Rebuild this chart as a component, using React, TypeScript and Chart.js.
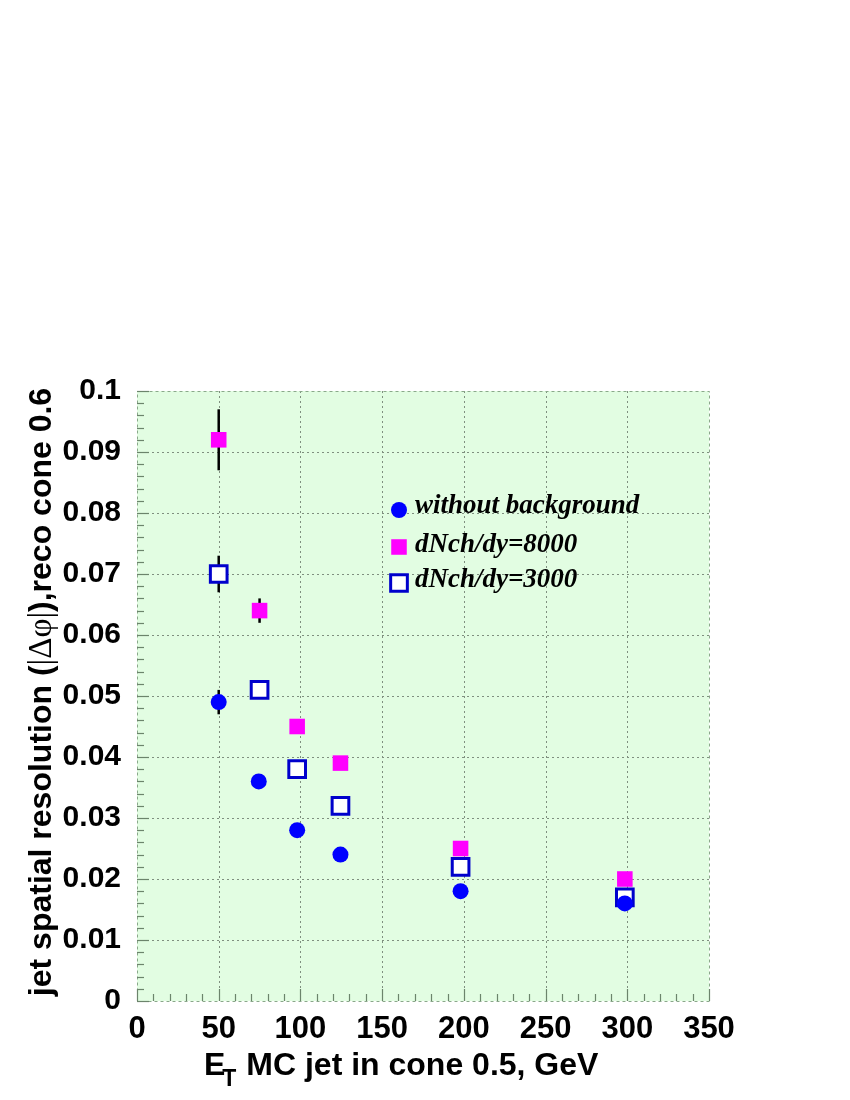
import React, { useEffect, useRef } from 'react';
import { Chart, registerables } from 'chart.js';

Chart.register(...registerables);

// ---- data ----
const xNoBg = [50, 74.5, 98, 124.5, 198, 298.5];
const yNoBg = [0.049, 0.036, 0.028, 0.024, 0.018, 0.016];
const eNoBg = [0.002, 0.0006, 0.0005, 0.0005, 0.0005, 0.0005];

const x8000 = [50, 75, 98, 124.5, 198, 298.5];
const y8000 = [0.092, 0.064, 0.045, 0.039, 0.025, 0.020];
const e8000 = [0.005, 0.002, 0.001, 0.001, 0.0008, 0.0008];

const x3000 = [50, 75, 98, 124.5, 198, 298.5];
const y3000 = [0.070, 0.051, 0.038, 0.032, 0.022, 0.017];
const e3000 = [0.003, 0.001, 0.001, 0.0008, 0.0006, 0.0006];

const seriesLabels = ['without background', 'dNch/dy=8000', 'dNch/dy=3000'];

const xTickValues = [0, 50, 100, 150, 200, 250, 300, 350];
const yTickValues = [0, 0.01, 0.02, 0.03, 0.04, 0.05, 0.06, 0.07, 0.08, 0.09, 0.1];
const xMinorStep = 10;
const yMinorStep = 0.002;

const xTitleMain = 'E';
const xTitleSub = 'T';
const xTitleRest = ' MC jet in cone 0.5, GeV';
const yTitleParts = ['jet spatial resolution (', '|\u0394\u03c6|', '),reco cone 0.6'];

const SANS = "'Liberation Sans', Arial, Helvetica, sans-serif";
const SERIF = "'Liberation Serif', 'Times New Roman', serif";
const PLOT_BG = '#e2fde2';
const GRID_COLOR = '#7f8f7f';
const FRAME_COLOR = '#8aa88a';
const TICK_COLOR = '#6c846c';

const errorsByDataset = [eNoBg, e8000, e3000];

const decorPlugin = {
  id: 'rootDecor',
  beforeDraw(chart: any) {
    const { ctx, chartArea: a } = chart;
    ctx.save();
    ctx.fillStyle = PLOT_BG;
    ctx.fillRect(a.left, a.top, a.right - a.left, a.bottom - a.top);
    ctx.restore();
  },
  beforeDatasetsDraw(chart: any) {
    const { ctx, chartArea: a, scales } = chart;
    const xs = scales.x;
    const ys = scales.y;
    ctx.save();
    // dotted grid lines
    ctx.strokeStyle = GRID_COLOR;
    ctx.lineWidth = 1;
    ctx.setLineDash([2, 3]);
    xTickValues.forEach((v) => {
      const px = Math.round(xs.getPixelForValue(v)) + 0.5;
      if (v <= xs.min || v >= xs.max) return;
      ctx.beginPath();
      ctx.moveTo(px, a.top);
      ctx.lineTo(px, a.bottom);
      ctx.stroke();
    });
    yTickValues.forEach((v) => {
      const py = Math.round(ys.getPixelForValue(v)) + 0.5;
      if (v <= ys.min || v >= ys.max) return;
      ctx.beginPath();
      ctx.moveTo(a.left, py);
      ctx.lineTo(a.right, py);
      ctx.stroke();
    });
    // dotted frame
    ctx.strokeStyle = FRAME_COLOR;
    ctx.setLineDash([3, 3]);
    ctx.strokeRect(Math.round(a.left) + 0.5, Math.round(a.top) + 0.5, Math.round(a.right - a.left), Math.round(a.bottom - a.top));
    ctx.setLineDash([]);
    // tick marks
    ctx.strokeStyle = TICK_COLOR;
    ctx.lineWidth = 1.2;
    for (let v = xs.min; v <= xs.max + 1e-9; v += xMinorStep) {
      const major = Math.abs(v / 50 - Math.round(v / 50)) < 1e-6;
      const px = Math.round(xs.getPixelForValue(v)) + 0.5;
      const len = major ? 12 : 7;
      ctx.beginPath();
      ctx.moveTo(px, a.bottom);
      ctx.lineTo(px, a.bottom - len);
      ctx.stroke();
    }
    for (let i = 0; i * yMinorStep <= ys.max + 1e-9; i++) {
      const v = i * yMinorStep;
      const major = i % 5 === 0;
      const py = Math.round(ys.getPixelForValue(v)) + 0.5;
      const len = major ? 12 : 7;
      ctx.beginPath();
      ctx.moveTo(a.left, py);
      ctx.lineTo(a.left + len, py);
      ctx.stroke();
    }
    // error bars
    ctx.strokeStyle = '#000000';
    ctx.lineWidth = 2.5;
    chart.data.datasets.forEach((ds: any, di: number) => {
      const errs = errorsByDataset[di];
      ds.data.forEach((pt: any, i: number) => {
        const px = xs.getPixelForValue(pt.x);
        const y1 = ys.getPixelForValue(pt.y - errs[i]);
        const y2 = ys.getPixelForValue(pt.y + errs[i]);
        ctx.beginPath();
        ctx.moveTo(px, y1);
        ctx.lineTo(px, y2);
        ctx.stroke();
      });
    });
    ctx.restore();
  },
  afterDraw(chart: any) {
    const { ctx, chartArea: a } = chart;
    ctx.save();
    // legend
    const legendX = 399;
    const legendY = [510, 547, 583];
    const baseY = [513, 552, 587];
    chart.data.datasets.forEach((ds: any, i: number) => {
      ctx.save();
      ctx.beginPath();
      if (ds.pointStyle === 'circle') {
        ctx.fillStyle = ds.backgroundColor;
        ctx.arc(legendX, legendY[i], ds.pointRadius, 0, Math.PI * 2);
        ctx.fill();
      } else {
        const h = ds.pointRadius * Math.SQRT1_2;
        ctx.rect(legendX - h, legendY[i] - h, 2 * h, 2 * h);
        ctx.fillStyle = ds.backgroundColor;
        ctx.fill();
        if (ds.borderWidth > 0) {
          ctx.lineWidth = ds.borderWidth;
          ctx.strokeStyle = ds.borderColor;
          ctx.stroke();
        }
      }
      ctx.restore();
      ctx.fillStyle = '#000';
      ctx.font = `italic bold 27px ${SERIF}`;
      ctx.textAlign = 'left';
      ctx.textBaseline = 'alphabetic';
      ctx.fillText(ds.label, 415, baseY[i]);
    });

    // x title
    ctx.fillStyle = '#000';
    ctx.textAlign = 'left';
    ctx.textBaseline = 'alphabetic';
    ctx.font = `bold 32px ${SANS}`;
    const ex = 204;
    ctx.fillText(xTitleMain, ex, 1075);
    const wE = ctx.measureText(xTitleMain).width;
    ctx.font = `bold 23px ${SANS}`;
    const tx = ex + wE - 3;
    ctx.fillText(xTitleSub, tx, 1086);
    const wT = ctx.measureText(xTitleSub).width;
    ctx.font = `bold 32px ${SANS}`;
    ctx.fillText(xTitleRest, tx + wT + 1, 1075);

    // y title (rotated)
    const fonts = [`bold 32px ${SANS}`, `33px ${SERIF}`, `bold 32px ${SANS}`];
    let total = 0;
    const widths = yTitleParts.map((p, i) => {
      ctx.font = fonts[i];
      const w = ctx.measureText(p).width;
      total += w;
      return w;
    });
    ctx.translate(51, (a.top + a.bottom) / 2 - 4);
    ctx.rotate(-Math.PI / 2);
    let cx = -total / 2;
    yTitleParts.forEach((p, i) => {
      ctx.font = fonts[i];
      ctx.fillText(p, cx, 0);
      cx += widths[i];
    });
    ctx.restore();
  },
};

export default function App() {
  const canvasRef = useRef<HTMLCanvasElement | null>(null);

  useEffect(() => {
    if (!canvasRef.current) return;
    const toPts = (xs: number[], ys: number[]) => xs.map((x, i) => ({ x, y: ys[i] }));
    const chart = new Chart(canvasRef.current, {
      type: 'scatter',
      data: {
        datasets: [
          {
            label: seriesLabels[0],
            data: toPts(xNoBg, yNoBg),
            pointStyle: 'circle',
            pointRadius: 8,
            pointHoverRadius: 8,
            backgroundColor: '#0000ff',
            borderColor: '#0000ff',
            borderWidth: 0,
            order: 0,
          } as any,
          {
            label: seriesLabels[1],
            data: toPts(x8000, y8000),
            pointStyle: 'rect',
            pointRadius: 11,
            pointHoverRadius: 11,
            backgroundColor: '#ff00ff',
            borderColor: '#ff00ff',
            borderWidth: 0,
            order: 2,
          } as any,
          {
            label: seriesLabels[2],
            data: toPts(x3000, y3000),
            pointStyle: 'rect',
            pointRadius: 11.8,
            pointHoverRadius: 11.8,
            backgroundColor: '#ffffff',
            borderColor: '#0000cc',
            borderWidth: 3,
            order: 1,
          } as any,
        ],
      },
      options: {
        animation: false,
        responsive: false,
        maintainAspectRatio: false,
        layout: { padding: { top: 391, right: 141, bottom: 0, left: 0 } },
        plugins: {
          legend: { display: false },
          tooltip: { enabled: false },
          title: { display: false },
        },
        scales: {
          x: {
            type: 'linear',
            min: 0,
            max: 350,
            grid: { display: false, drawTicks: false },
            border: { display: false },
            afterFit: (s: any) => { s.height = 99; },
            afterBuildTicks: (s: any) => { s.ticks = xTickValues.map((v) => ({ value: v })); },
            ticks: {
              padding: 10,
              color: '#000',
              font: { family: SANS, size: 31, weight: 'bold' },
              callback: (v: any) => String(v),
              maxRotation: 0,
              autoSkip: false,
            },
          },
          y: {
            type: 'linear',
            min: 0,
            max: 0.1,
            grid: { display: false, drawTicks: false },
            border: { display: false },
            afterFit: (s: any) => { s.width = 137; },
            afterBuildTicks: (s: any) => { s.ticks = yTickValues.map((v) => ({ value: v })); },
            ticks: {
              padding: 16,
              color: '#000',
              font: { family: SANS, size: 30, weight: 'bold' },
              callback: (v: any) => {
                const n = Math.round(Number(v) * 100) / 100;
                return n === 0 ? '0' : String(n);
              },
              autoSkip: false,
            },
          },
        },
      } as any,
      plugins: [decorPlugin],
    });
    return () => chart.destroy();
  }, []);

  return (
    <div style={{ position: 'absolute', left: 0, top: 0, width: 850, height: 1100, background: '#fff' }}>
      <canvas ref={canvasRef} width={850} height={1100} style={{ display: 'block', width: 850, height: 1100 }} />
    </div>
  );
}
